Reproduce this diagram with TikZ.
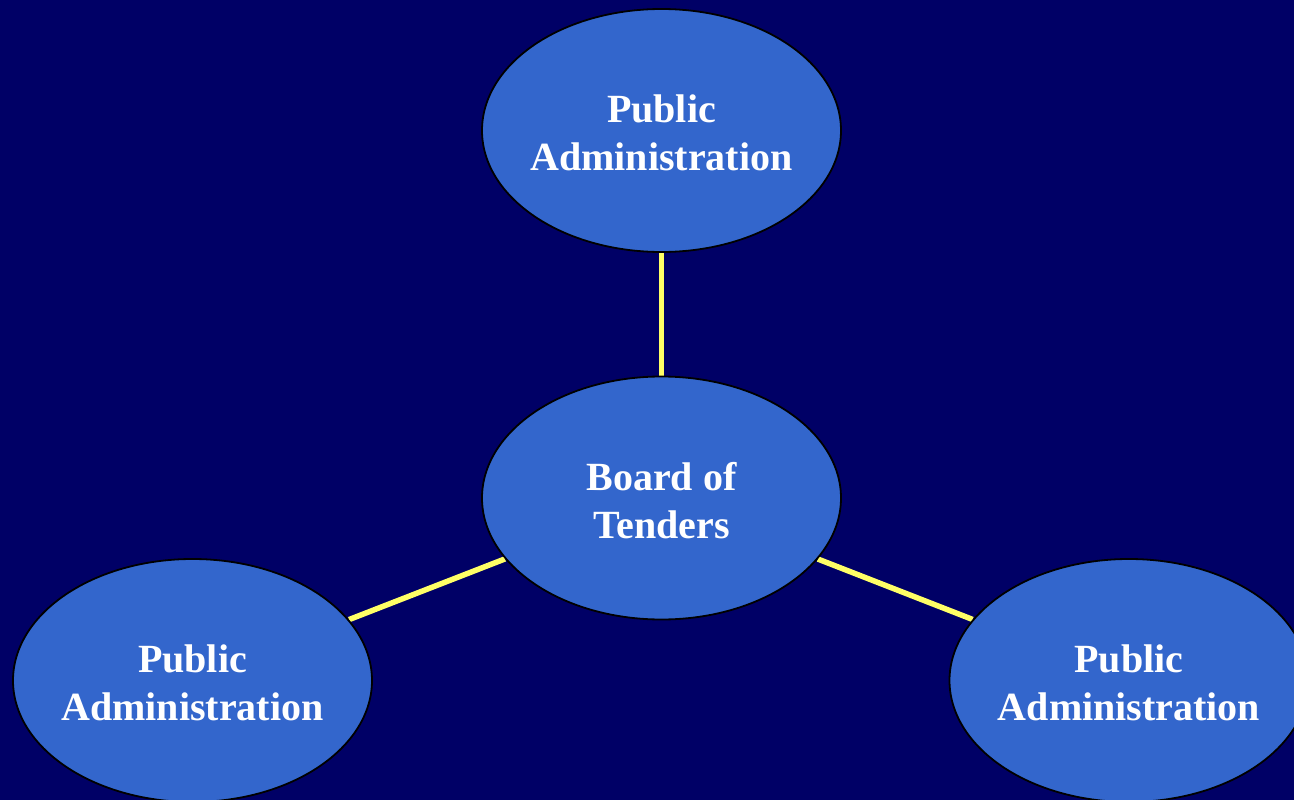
\documentclass[tikz,border=0pt]{standalone}
\usepackage{fontspec}
\setmainfont{Liberation Serif}
\usetikzlibrary{shapes.geometric}
\definecolor{bgnavy}{HTML}{000066}
\definecolor{ellblue}{HTML}{3366CC}
\definecolor{linkyellow}{HTML}{FFFF66}
\pgfdeclarelayer{back}
\pgfdeclarelayer{lines}
\pgfsetlayers{back,lines,main}
\tikzset{
  oval/.style={ellipse, draw=black, line width=1.8pt, fill=ellblue,
    minimum width=359pt, minimum height=243pt, inner sep=0pt},
  ovaltext/.style={text=white, font=\fontsize{40}{48.5}\selectfont\bfseries, align=center, inner sep=0pt, yshift=-2.5pt},
  link/.style={draw=linkyellow, line width=5.5pt}
}
\begin{document}
\begin{tikzpicture}[x=1pt,y=-1pt]
\begin{pgfonlayer}{back}
\fill[bgnavy] (0,0) rectangle (1294,800);
\end{pgfonlayer}
\useasboundingbox (0,0) rectangle (1294,800);
\clip (0,0) rectangle (1294,800);
\node[oval] (top) at (661.5,130.5) {};
\node[oval] (mid) at (661.5,498) {};
\node[oval] (left) at (192.5,680.5) {};
\node[oval] (right) at (1129,680.5) {};
\node[ovaltext] (toptxt) at (top) {Public\\Administration};
\node[ovaltext] (midtxt) at (mid) {Board of\\Tenders};
\node[ovaltext] (lefttxt) at (left) {Public\\Administration};
\node[ovaltext] (righttxt) at (right) {Public\\Administration};
\begin{pgfonlayer}{lines}
\draw[link] (top) -- (mid);
\draw[link] (mid) -- (left);
\draw[link] (mid) -- (right);
\end{pgfonlayer}
\end{tikzpicture}
\end{document}
